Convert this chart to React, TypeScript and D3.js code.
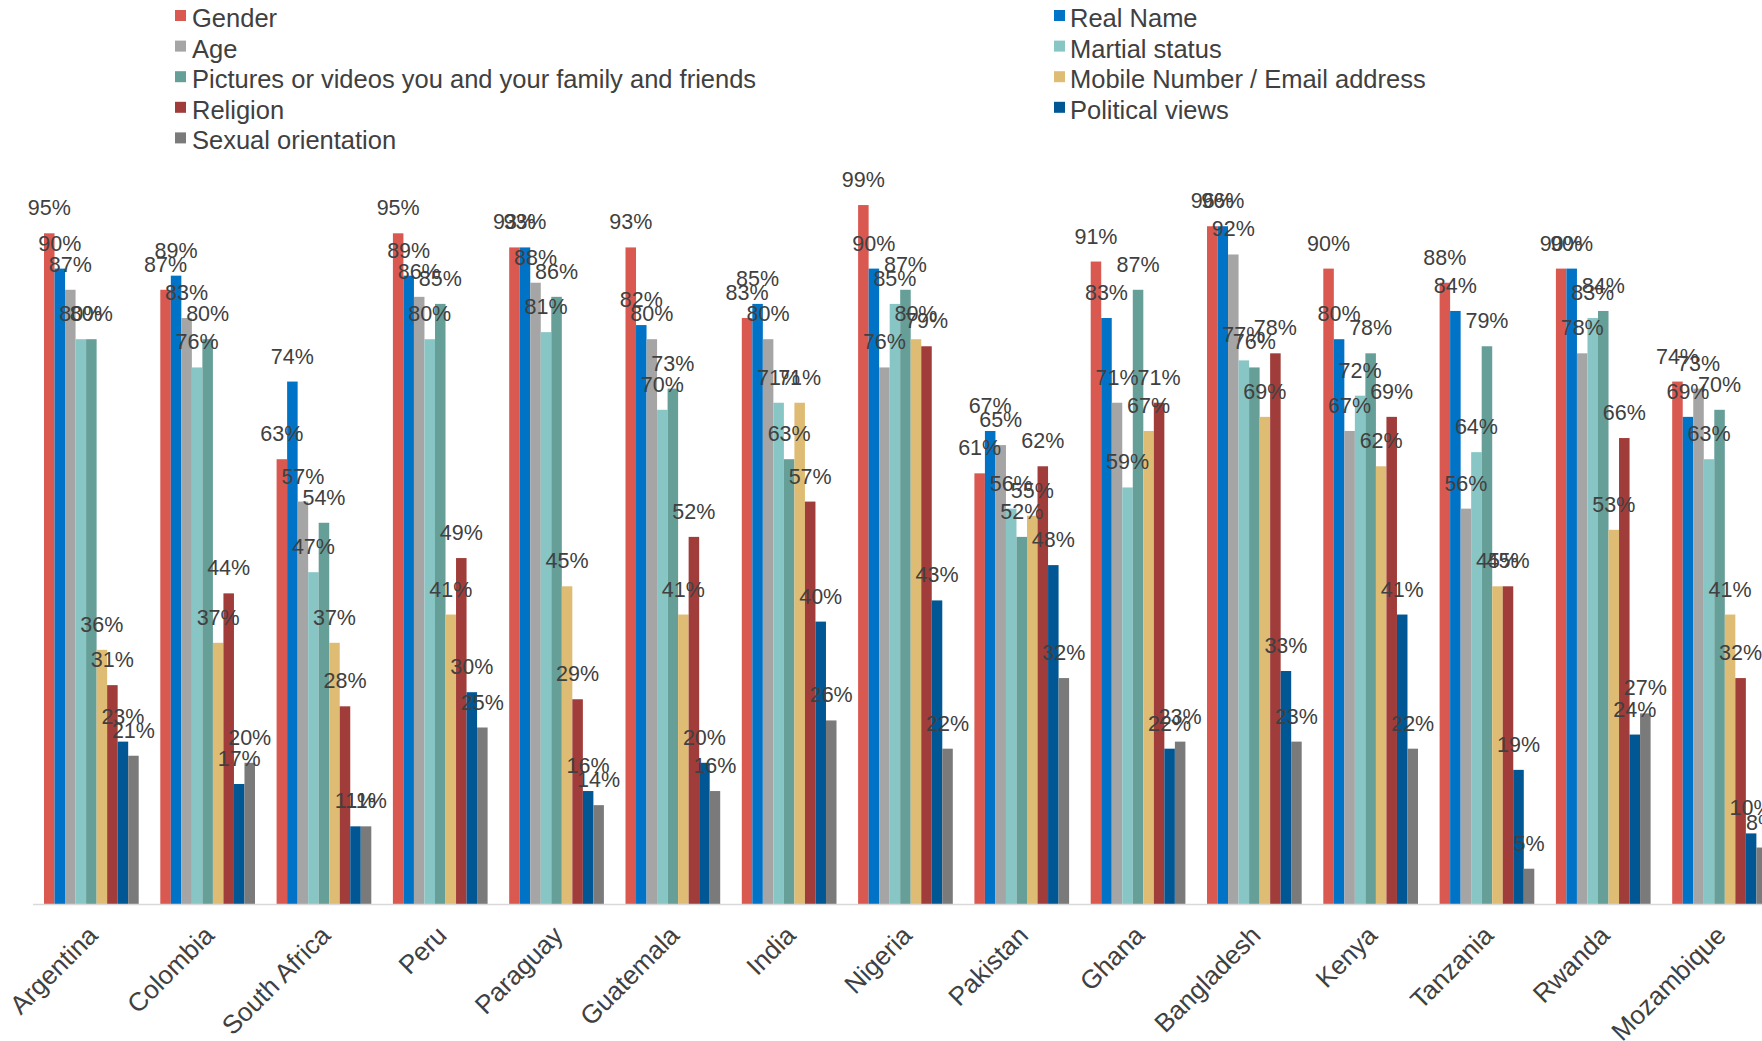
import React from "react";
import * as d3 from "d3";

const countries = ["Argentina","Colombia","South Africa","Peru","Paraguay","Guatemala","India","Nigeria","Pakistan","Ghana","Bangladesh","Kenya","Tanzania","Rwanda","Mozambique"];

const seriesNames = ["Gender","Real Name","Age","Martial status","Pictures or videos you and your family and friends","Mobile Number / Email address","Religion","Political views","Sexual orientation"];
const seriesColors = ["#d95850","#0173c7","#a5a5a5","#88c6c6","#669e98","#dfbc73","#a03c39","#015694","#7a7a7a"];

const gender =      [95,87,63,95,93,93,83,99,61,91,96,90,88,90,74];
const realName =    [90,89,74,89,93,82,85,90,67,83,96,80,84,90,69];
const age =         [87,83,57,86,88,80,80,76,65,71,92,67,56,78,73];
const martial =     [80,76,47,80,81,70,71,85,56,59,77,72,64,83,63];
const pictures =    [80,80,54,85,86,73,63,87,52,87,76,78,79,84,70];
const mobile =      [36,37,37,41,45,41,71,80,55,67,69,62,45,53,41];
const religion =    [31,44,28,49,29,52,57,79,62,71,78,69,45,66,32];
const political =   [23,17,11,30,16,20,40,43,48,22,33,41,19,24,10];
const sexual =      [21,20,11,25,14,16,26,22,32,23,23,22,5,27,8];

const seriesValues = [gender, realName, age, martial, pictures, mobile, religion, political, sexual];

const W = 1762, H = 1041;
const FONT = "'Liberation Sans', Arial, Helvetica, sans-serif";

export default function App() {
  const step = 116.3;
  const x0 = d3.scaleBand<string>()
    .domain(countries)
    .range([33.2, 33.2 + countries.length * step])
    .paddingInner(21.6 / step)
    .paddingOuter(21.6 / step / 2);
  const x1 = d3.scaleBand<string>()
    .domain(seriesNames)
    .range([0, x0.bandwidth()])
    .padding(0);
  const y = d3.scaleLinear().domain([0, 1]).range([904, 198]);
  const fmt = d3.format(".0%");

  const bars: any[] = [];
  const labels: any[] = [];
  countries.forEach((c, ci) => {
    seriesNames.forEach((s, si) => {
      const v = seriesValues[si][ci] / 100;
      const bx = (x0(c) as number) + (x1(s) as number);
      const bw = x1.bandwidth();
      bars.push(
        <rect key={`b-${ci}-${si}`} x={bx} y={y(v)} width={bw} height={y(0) - y(v)} fill={seriesColors[si]} />
      );
      labels.push(
        <text key={`l-${ci}-${si}`} x={bx + bw / 2} y={y(v) - 18} textAnchor="middle"
          fontSize={21.5} fill="#404040" fontFamily={FONT}>{fmt(v)}</text>
      );
    });
  });

  const legendLeft = [0, 2, 4, 6, 8];
  const legendRight = [1, 3, 5, 7];
  const rowH = 30.6;
  const legendItem = (si: number, row: number, sx: number, tx: number) => (
    <g key={`lg-${si}`}>
      <rect x={sx} y={10 + row * rowH} width={11} height={11} fill={seriesColors[si]} />
      <text x={tx} y={27 + row * rowH} fontSize={25.5} fill="#404040" fontFamily={FONT}>{seriesNames[si]}</text>
    </g>
  );

  return (
    <svg width={W} height={H} style={{ position: "absolute", left: 0, top: 0, background: "#fff" }}>
      <rect x={0} y={0} width={W} height={H} fill="#ffffff" />
      {legendLeft.map((si, r) => legendItem(si, r, 175, 192))}
      {legendRight.map((si, r) => legendItem(si, r, 1054, 1070))}
      {bars}
      <line x1={33} x2={W} y1={904.5} y2={904.5} stroke="#d9d9d9" strokeWidth={1.5} />
      {labels}
      {countries.map((c) => {
        const cx = (x0(c) as number) + x0.bandwidth() / 2;
        return (
          <text key={`c-${c}`} transform={`translate(${cx + 8},${904 + 33}) rotate(-45)`}
            textAnchor="end" fontSize={26} fill="#404040" fontFamily={FONT}>{c}</text>
        );
      })}
    </svg>
  );
}
